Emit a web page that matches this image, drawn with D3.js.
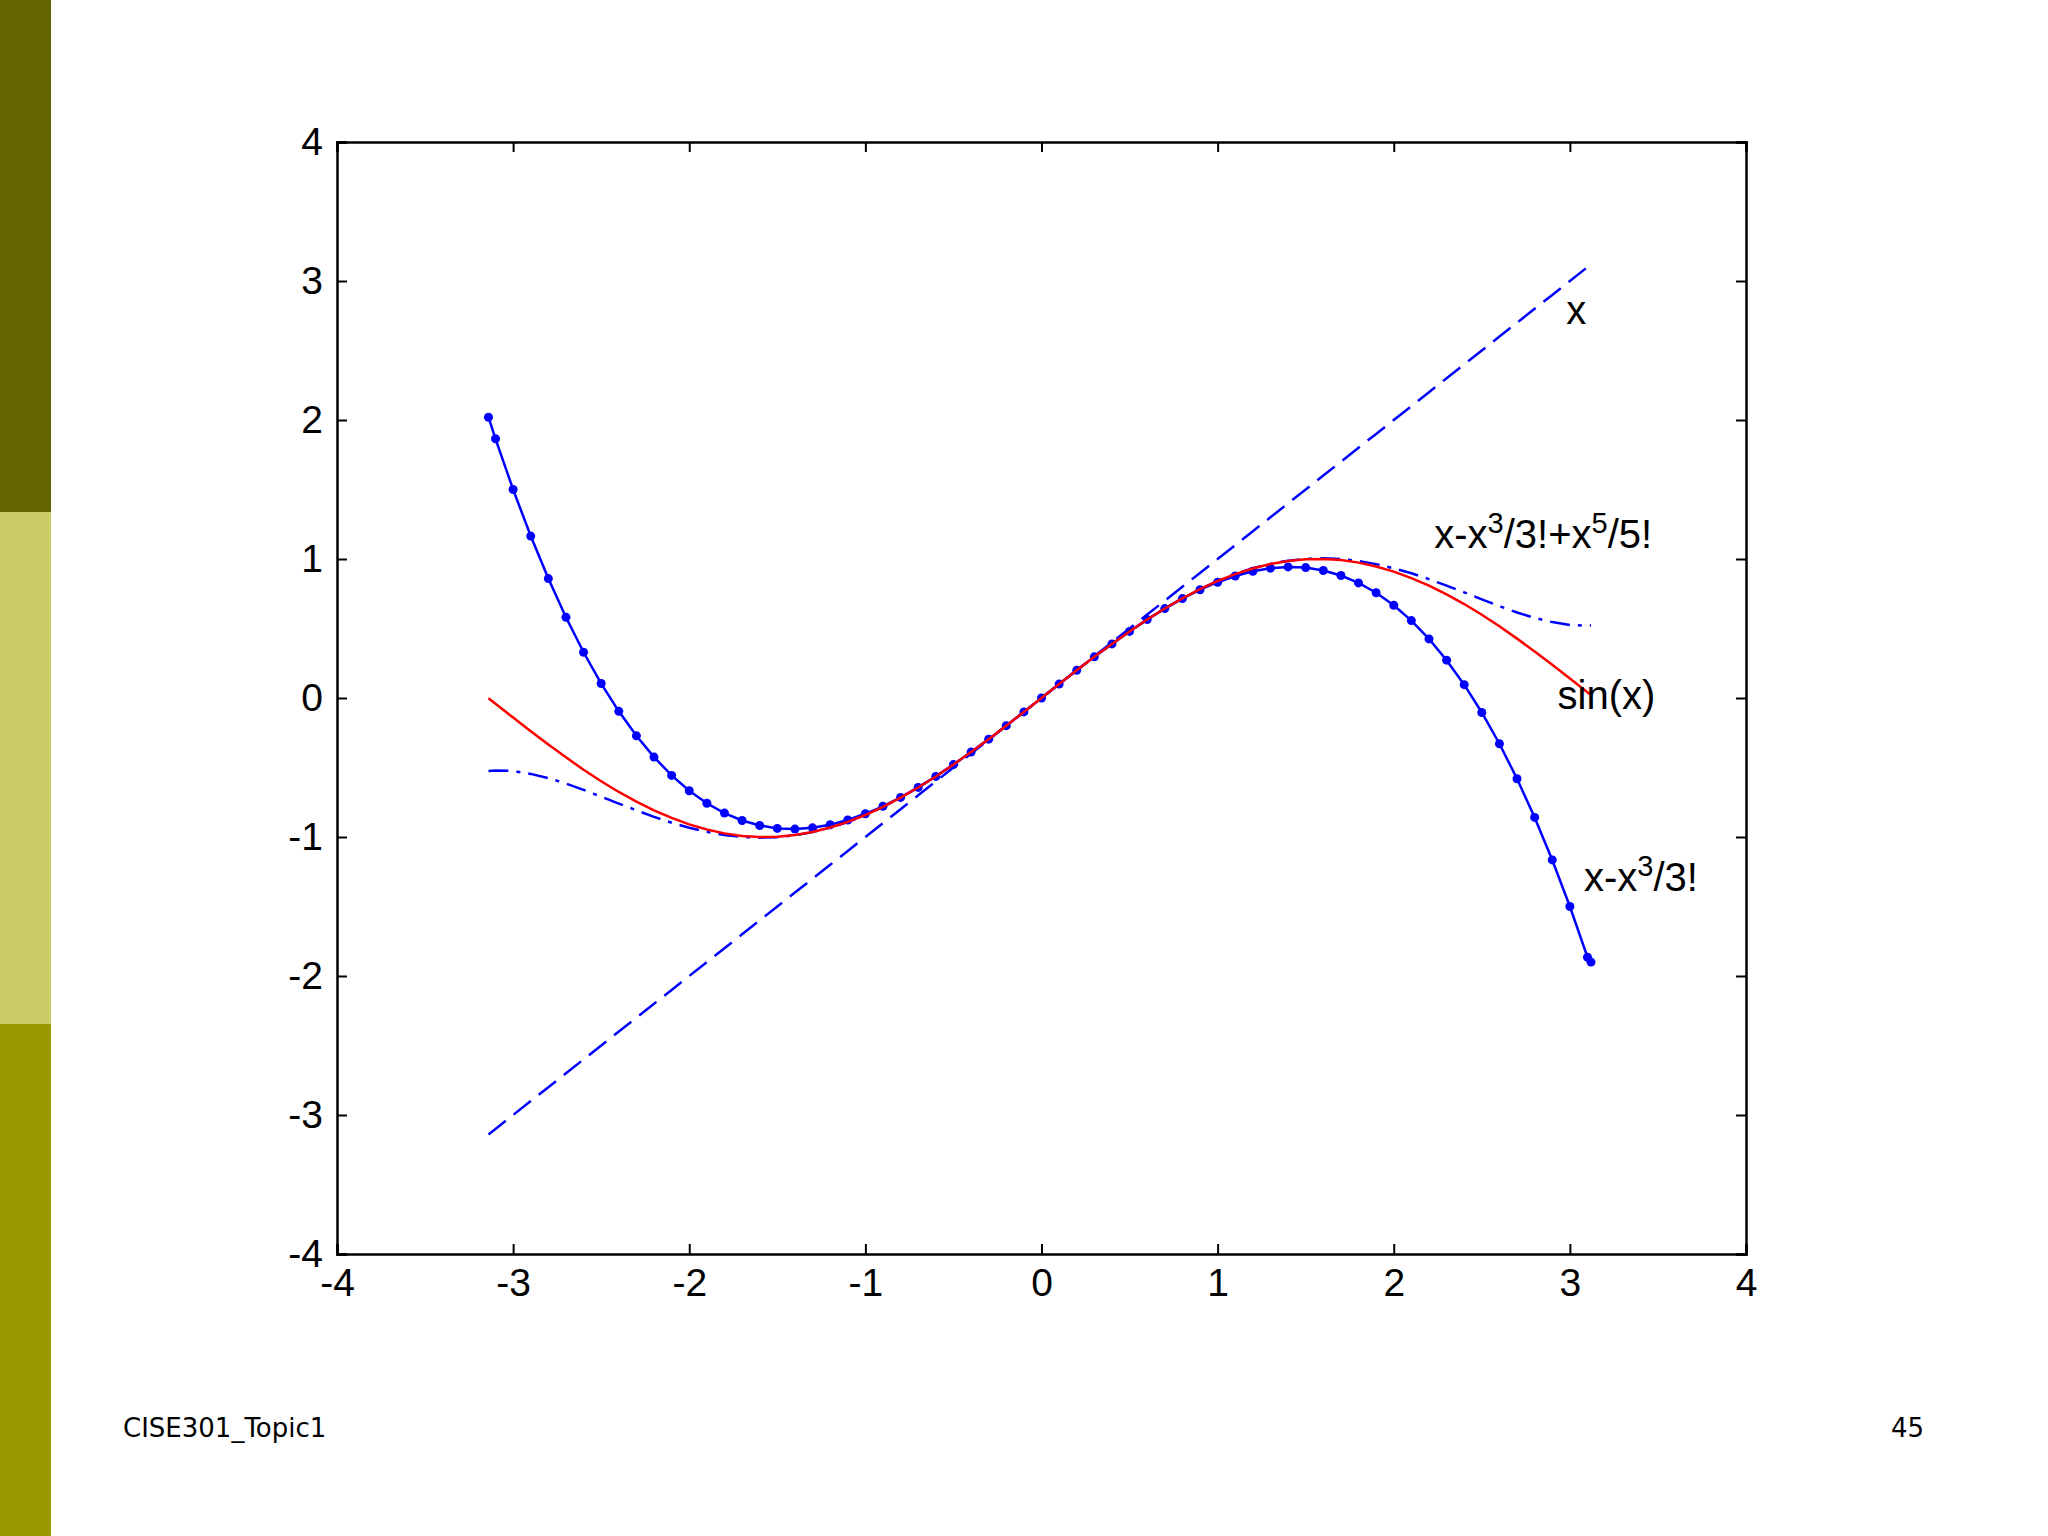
<!DOCTYPE html>
<html><head><meta charset="utf-8">
<script src="https://cdn.jsdelivr.net/npm/d3@7"></script>
<style>body{margin:0;background:#fff}</style>
</head><body>
<svg id="c" width="2048" height="1536" style="font-family:Arial,'Liberation Sans',sans-serif"></svg>
<script>
const xs=[-3.14,-3.1,-3.0,-2.9,-2.8,-2.7,-2.6,-2.5,-2.4,-2.3,-2.2,-2.1,-2.0,-1.9,-1.8,-1.7,-1.6,-1.5,-1.4,-1.3,-1.2,-1.1,-1.0,-0.9,-0.8,-0.7,-0.6,-0.5,-0.4,-0.3,-0.2,-0.1,0,0.1,0.2,0.3,0.4,0.5,0.6,0.7,0.8,0.9,1.0,1.1,1.2,1.3,1.4,1.5,1.6,1.7,1.8,1.9,2.0,2.1,2.2,2.3,2.4,2.5,2.6,2.7,2.8,2.9,3.0,3.1,3.12];
const sinVals=[-0.002,-0.042,-0.141,-0.239,-0.335,-0.427,-0.516,-0.599,-0.676,-0.746,-0.809,-0.863,-0.909,-0.946,-0.974,-0.992,-1.000,-0.998,-0.985,-0.964,-0.932,-0.891,-0.842,-0.783,-0.717,-0.644,-0.565,-0.479,-0.389,-0.296,-0.199,-0.100,0,0.100,0.199,0.296,0.389,0.479,0.565,0.644,0.717,0.783,0.842,0.891,0.932,0.964,0.985,0.998,1.000,0.992,0.974,0.946,0.909,0.863,0.809,0.746,0.676,0.599,0.516,0.427,0.335,0.239,0.141,0.042,0.022];
const cubicVals=[2.02,1.865,1.500,1.165,0.859,0.581,0.329,0.104,-0.096,-0.272,-0.425,-0.557,-0.667,-0.757,-0.828,-0.881,-0.917,-0.938,-0.943,-0.934,-0.912,-0.878,-0.833,-0.779,-0.715,-0.643,-0.564,-0.479,-0.389,-0.296,-0.199,-0.100,0,0.100,0.199,0.296,0.389,0.479,0.564,0.643,0.715,0.779,0.833,0.878,0.912,0.934,0.943,0.938,0.917,0.881,0.828,0.757,0.667,0.557,0.425,0.272,0.096,-0.104,-0.329,-0.581,-0.859,-1.165,-1.500,-1.865,-1.90];
const quinticVals=[-0.525,-0.521,-0.525,-0.546,-0.576,-0.615,-0.661,-0.710,-0.760,-0.808,-0.855,-0.897,-0.933,-0.963,-0.986,-1.000,-1.005,-1.001,-0.988,-0.965,-0.933,-0.892,-0.842,-0.783,-0.717,-0.644,-0.565,-0.479,-0.389,-0.296,-0.199,-0.100,0,0.100,0.199,0.296,0.389,0.479,0.565,0.644,0.717,0.783,0.842,0.892,0.933,0.965,0.988,1.001,1.005,1.000,0.986,0.963,0.933,0.897,0.855,0.808,0.760,0.710,0.661,0.615,0.576,0.546,0.525,0.521,0.522];
const linVals=xs.slice();
const ticks=[-4,-3,-2,-1,0,1,2,3,4];

const svg=d3.select("#c");
svg.append("rect").attr("x",0).attr("y",0).attr("width",51).attr("height",512).attr("fill","#636600");
svg.append("rect").attr("x",0).attr("y",512).attr("width",51).attr("height",512).attr("fill","#cccc66");
svg.append("rect").attr("x",0).attr("y",1024).attr("width",51).attr("height",512).attr("fill","#999900");
svg.append("text").attr("x",123).attr("y",1437).style("font-size","26px").style("font-family","'DejaVu Sans',Verdana,sans-serif").text("CISE301_Topic1");
svg.append("text").attr("x",1924).attr("y",1437).style("font-size","26px").style("font-family","'DejaVu Sans',Verdana,sans-serif").attr("text-anchor","end").text("45");

const L=337,R=1746,T=142,B=1254;
const x=d3.scaleLinear().domain([-4,4]).range([L,R]);
const y=d3.scaleLinear().domain([-4,4]).range([B,T]);
const g=svg.append("g");
const fs=40;
const fmt=d=>String(d);
g.append("g").attr("transform",`translate(0,${B})`).call(d3.axisBottom(x).tickValues(ticks).tickSize(-10).tickPadding(14).tickFormat(fmt));
g.append("g").attr("transform",`translate(0,${T})`).call(d3.axisTop(x).tickValues(ticks).tickSize(-10).tickFormat(""));
g.append("g").attr("transform",`translate(${L},0)`).call(d3.axisLeft(y).tickValues(ticks).tickSize(-10).tickPadding(14).tickFormat(fmt));
g.append("g").attr("transform",`translate(${R},0)`).call(d3.axisRight(y).tickValues(ticks).tickSize(-10).tickFormat(""));
g.selectAll(".domain").attr("stroke","#000").attr("stroke-width",2.5);
g.selectAll(".tick line").attr("stroke","#000").attr("stroke-width",2);
g.selectAll(".tick text").attr("font-size",39).attr("font-family","Arial,'Liberation Sans',sans-serif").attr("fill","#000");

function line(vals,color,dash,w){
  svg.append("path").datum(xs.map((v,i)=>[v,vals[i]]))
   .attr("d",d3.line().x(d=>x(d[0])).y(d=>y(d[1])))
   .attr("fill","none").attr("stroke",color).attr("stroke-width",w).attr("stroke-dasharray",dash);
}
line(linVals,"#0000ff","22,10",2.5);
line(quinticVals,"#0000ff","20,8,4,8",2.5);
line(cubicVals,"#0000ff",null,2.5);
svg.selectAll(".dot").data(xs.map((v,i)=>[v,cubicVals[i]])).enter().append("circle")
  .attr("cx",d=>x(d[0])).attr("cy",d=>y(d[1])).attr("r",4.5).attr("fill","#0000ff");
line(sinVals,"#ff0000",null,2.5);

function label(px,py,parts){
  const t=svg.append("text").attr("x",x(px)).attr("y",y(py)).attr("font-size",fs);
  parts.forEach(p=>{const s=t.append("tspan").text(p[0]);if(p[1]){s.attr("font-size",29).attr("dy",-15);}else if(p[2]){s.attr("dy",15);}});
}
label(2.98,2.69,[["x"]]);
label(2.23,1.08,[["x-x"],["3",1],["/3!+x",0,1],["5",1],["/5!",0,1]]);
label(2.93,-0.08,[["sin(x)"]]);
label(3.08,-1.39,[["x-x"],["3",1],["/3!",0,1]]);
</script></body></html>
